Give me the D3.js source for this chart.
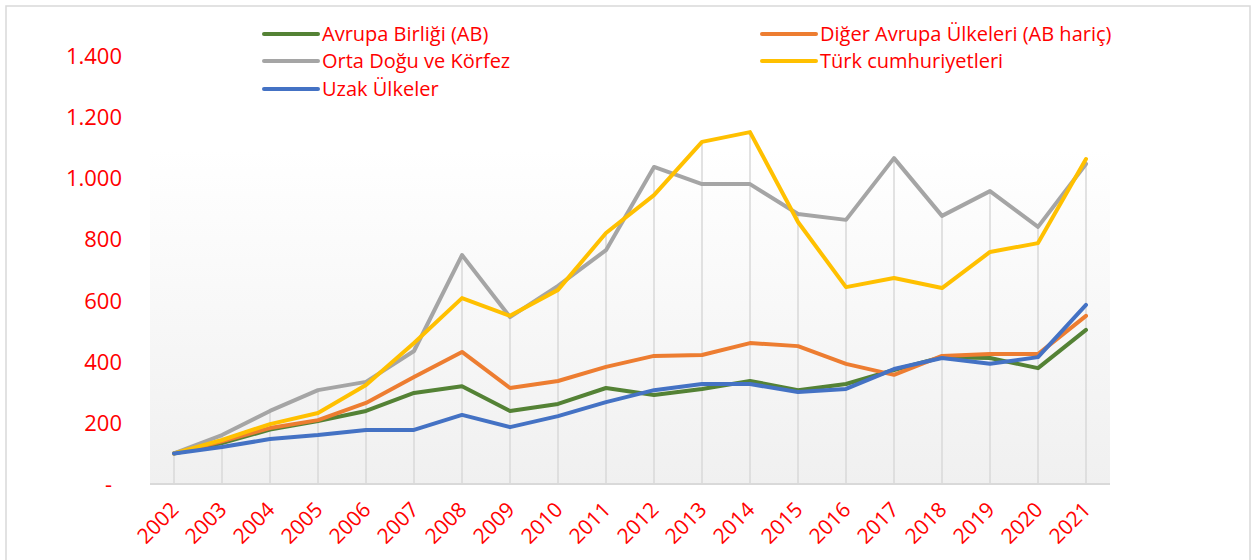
<!DOCTYPE html>
<html>
<head>
<meta charset="utf-8">
<script src="https://cdn.jsdelivr.net/npm/d3@7"></script>
<style>
  body { margin: 0; background: #fff; }
  svg text { font-family: "Open Sans", "Noto Sans", sans-serif; }
</style>
</head>
<body>
<div id="container"></div>
<script>
// data
let years = ["2002", "2003", "2004", "2005", "2006", "2007", "2008", "2009", "2010", "2011",
             "2012", "2013", "2014", "2015", "2016", "2017", "2018", "2019", "2020", "2021"];
let seriesNames = ["Avrupa Birliği (AB)", "Diğer Avrupa Ülkeleri (AB hariç)", "Orta Doğu ve Körfez",
                   "Türk cumhuriyetleri", "Uzak Ülkeler"];
let ab     = [100, 134, 178, 206, 239, 298, 320, 239, 262, 314, 291, 311, 337, 307, 327, 373, 415, 412, 379, 504];
let diger  = [100, 140, 183, 209, 265, 350, 432, 314, 337, 383, 419, 422, 461, 451, 393, 357, 419, 425, 425, 550];
let ortaDogu = [100, 160, 239, 307, 334, 435, 749, 546, 648, 765, 1037, 981, 981, 883, 864, 1066, 877, 958, 841, 1047];
let turk   = [100, 144, 196, 232, 324, 461, 608, 550, 635, 821, 945, 1119, 1151, 857, 644, 674, 641, 759, 788, 1063];
let uzak   = [100, 121, 147, 160, 177, 177, 226, 186, 222, 268, 307, 327, 327, 301, 311, 376, 412, 393, 415, 586];
let yTicks = [0, 200, 400, 600, 800, 1000, 1200, 1400];
let colors = ["#548235", "#ED7D31", "#A5A5A5", "#FFC000", "#4472C4"];

let allSeries = [ab, diger, ortaDogu, turk, uzak];

let viz = d3.select("#container")
  .append("svg")
    .attr("width", 1255)
    .attr("height", 560)
;

// outer border
viz.append("rect")
    .attr("x", 6)
    .attr("y", 6)
    .attr("width", 1244)
    .attr("height", 570)
    .attr("fill", "white")
    .attr("stroke", "#d9d9d9")
    .attr("stroke-width", 1.5)
;

let x = d3.scaleBand()
    .domain(years)
    .range([150, 1110])
;

let y = d3.scaleLinear()
    .domain([0, 1400])
    .range([484, 56])
;

// plot background gradient
let grad = viz.append("defs")
  .append("linearGradient")
    .attr("id", "bg")
    .attr("x1", 0).attr("y1", 0)
    .attr("x2", 0).attr("y2", 1)
;
grad.append("stop").attr("offset", "0%").attr("stop-color", "#ffffff");
grad.append("stop").attr("offset", "22%").attr("stop-color", "#ffffff");
grad.append("stop").attr("offset", "100%").attr("stop-color", "#f0f0f0");

viz.append("rect")
    .attr("x", 150)
    .attr("y", y(1400))
    .attr("width", 960)
    .attr("height", y(0) - y(1400))
    .attr("fill", "url(#bg)")
;

// drop lines from highest point of each year down to the axis
viz.append("g")
  .selectAll("line")
  .data(years)
  .join("line")
    .attr("x1", d => x(d) + x.bandwidth() / 2)
    .attr("x2", d => x(d) + x.bandwidth() / 2)
    .attr("y1", (d, i) => y(d3.max(allSeries, s => s[i])))
    .attr("y2", y(0))
    .attr("stroke", "#d9d9d9")
    .attr("stroke-width", 1.5)
;

// bottom axis line
viz.append("line")
    .attr("x1", 150)
    .attr("x2", 1110)
    .attr("y1", y(0))
    .attr("y2", y(0))
    .attr("stroke", "#d9d9d9")
    .attr("stroke-width", 2)
;

// y axis labels
let fmt = d => d === 0 ? "-" : d3.format(",")(d).replace(/,/g, ".");
viz.append("g")
  .selectAll("text")
  .data(yTicks)
  .join("text")
    .text(fmt)
    .attr("x", d => d === 0 ? 112 : 122)
    .attr("y", d => y(d) + 8)
    .attr("text-anchor", "end")
    .attr("fill", "red")
    .attr("font-size", 22)
;

// x axis labels, rotated
viz.append("g")
  .selectAll("text")
  .data(years)
  .join("text")
    .text(d => d)
    .attr("text-anchor", "end")
    .attr("fill", "red")
    .attr("font-size", 21)
    .attr("transform", d => "translate(" + (x(d) + x.bandwidth() / 2 + 6) + ",511) rotate(-45)")
;

// lines
let line = d3.line()
    .x((d, i) => x(years[i]) + x.bandwidth() / 2)
    .y(d => y(d))
;

viz.append("g")
  .selectAll("path")
  .data(allSeries)
  .join("path")
    .attr("d", line)
    .attr("fill", "none")
    .attr("stroke", (d, i) => colors[i])
    .attr("stroke-width", 4)
    .attr("stroke-linecap", "round")
    .attr("stroke-linejoin", "round")
;

// legend: left column AB, Orta Doğu, Uzak; right column Diğer, Türk
let legendPos = [[264, 34], [762, 34], [264, 61], [762, 61], [264, 89]];
let legend = viz.append("g")
  .selectAll("g")
  .data(seriesNames)
  .join("g")
    .attr("transform", (d, i) => "translate(" + legendPos[i][0] + "," + legendPos[i][1] + ")")
;
legend.append("line")
    .attr("x1", 0)
    .attr("x2", 54)
    .attr("stroke", (d, i) => colors[i])
    .attr("stroke-width", 4)
    .attr("stroke-linecap", "round")
;
legend.append("text")
    .text(d => d)
    .attr("x", 58)
    .attr("y", 7)
    .attr("fill", "red")
    .attr("font-size", 20)
;
</script>
</body>
</html>
